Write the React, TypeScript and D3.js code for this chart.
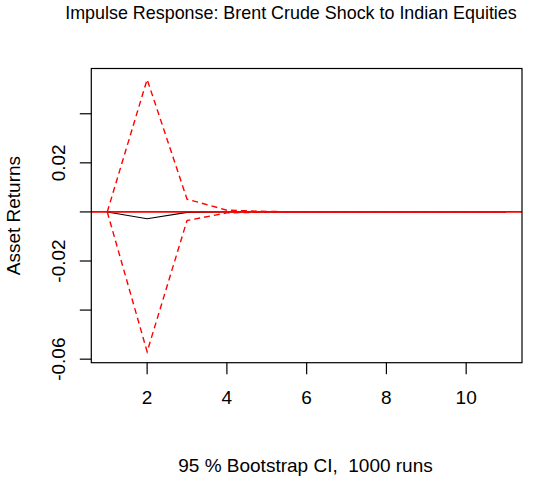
import React from 'react';
import * as d3 from 'd3';

// impulse response horizon and values
const horizon = [1, 2, 3, 4, 5, 6, 7, 8, 9, 10, 11];
const irf = [0, -0.0028, -0.0002, 0, 0, 0, 0, 0, 0, 0, 0];
const upper = [0, 0.054, 0.0052, 0.0007, 0.0002, 0, 0, 0, 0, 0, 0];
const lower = [0, -0.057, -0.0035, -0.0004, -0.0001, 0, 0, 0, 0, 0, 0];

const xTicks = [2, 4, 6, 8, 10];
const yTicks = [-0.06, -0.04, -0.02, 0, 0.02, 0.04];
const yTickLabels = ['-0.06', '', '-0.02', '', '0.02', ''];

const title = 'Impulse Response: Brent Crude Shock to Indian Equities';
const xTitle = '95 % Bootstrap CI,  1000 runs';
const yTitle = 'Asset Returns';

const W = 550;
const H = 481;
const box = { left: 91.3, right: 522, top: 68.5, bottom: 362.7 };
const font = '"Liberation Sans", Arial, Helvetica, sans-serif';

const App: React.FC = () => {
  // R style 4% padding on both axes
  const xMin = d3.min(horizon) as number;
  const xMax = d3.max(horizon) as number;
  const xPad = (xMax - xMin) * 0.04;
  const x = d3.scaleLinear()
    .domain([xMin - xPad, xMax + xPad])
    .range([box.left, box.right]);

  const yLo = d3.min(lower) as number;
  const yHi = d3.max(upper) as number;
  const yPad = (yHi - yLo) * 0.04;
  const y = d3.scaleLinear()
    .domain([yLo - yPad, yHi + yPad])
    .range([box.bottom, box.top]);

  const line = d3.line<number>()
    .x((_, i) => x(horizon[i]))
    .y(d => y(d));

  return (
    <svg
      width={W}
      height={H}
      style={{ display: 'block', position: 'absolute', left: 0, top: 0, background: 'white' }}
      fontFamily={font}
    >
      <rect x={0} y={0} width={W} height={H} fill="white" />

      {/* title */}
      <text x={291} y={18.5} textAnchor="middle" fontSize={17.9} fill="#000">
        {title}
      </text>

      <defs>
        <clipPath id="plotClip">
          <rect x={box.left} y={box.top} width={box.right - box.left} height={box.bottom - box.top} />
        </clipPath>
      </defs>

      <g clipPath="url(#plotClip)">
        <path d={line(irf) || ''} fill="none" stroke="#000" strokeWidth={1.1} />
        <path d={line(upper) || ''} fill="none" stroke="#ff0000" strokeWidth={1.4} strokeDasharray="6,4" />
        <path d={line(lower) || ''} fill="none" stroke="#ff0000" strokeWidth={1.4} strokeDasharray="6,4" />
        <line x1={box.left} x2={box.right} y1={y(0)} y2={y(0)} stroke="#ff0000" strokeWidth={1.6} />
      </g>

      {/* box */}
      <rect
        x={box.left}
        y={box.top}
        width={box.right - box.left}
        height={box.bottom - box.top}
        fill="none"
        stroke="#000"
        strokeWidth={1.2}
      />

      {/* x axis */}
      {xTicks.map(t => (
        <g key={'x' + t}>
          <line x1={x(t)} x2={x(t)} y1={box.bottom} y2={box.bottom + 11.5} stroke="#000" strokeWidth={1.2} />
          <text x={x(t)} y={404.3} textAnchor="middle" fontSize={19} fill="#000">
            {t}
          </text>
        </g>
      ))}

      {/* y axis */}
      {yTicks.map((t, i) => (
        <g key={'y' + t}>
          <line x1={box.left} x2={box.left - 11.5} y1={y(t)} y2={y(t)} stroke="#000" strokeWidth={1.2} />
          {yTickLabels[i] && (
            <text
              transform={`translate(65,${y(t)}) rotate(-90)`}
              textAnchor="middle"
              fontSize={19}
              fill="#000"
            >
              {yTickLabels[i]}
            </text>
          )}
        </g>
      ))}

      {/* axis titles */}
      <text x={305.5} y={472} textAnchor="middle" fontSize={19} fill="#000" style={{ whiteSpace: 'pre' }}>
        {xTitle}
      </text>
      <text
        transform={`translate(20,${(box.top + box.bottom) / 2}) rotate(-90)`}
        textAnchor="middle"
        fontSize={19}
        fill="#000"
      >
        {yTitle}
      </text>
    </svg>
  );
};

export default App;
